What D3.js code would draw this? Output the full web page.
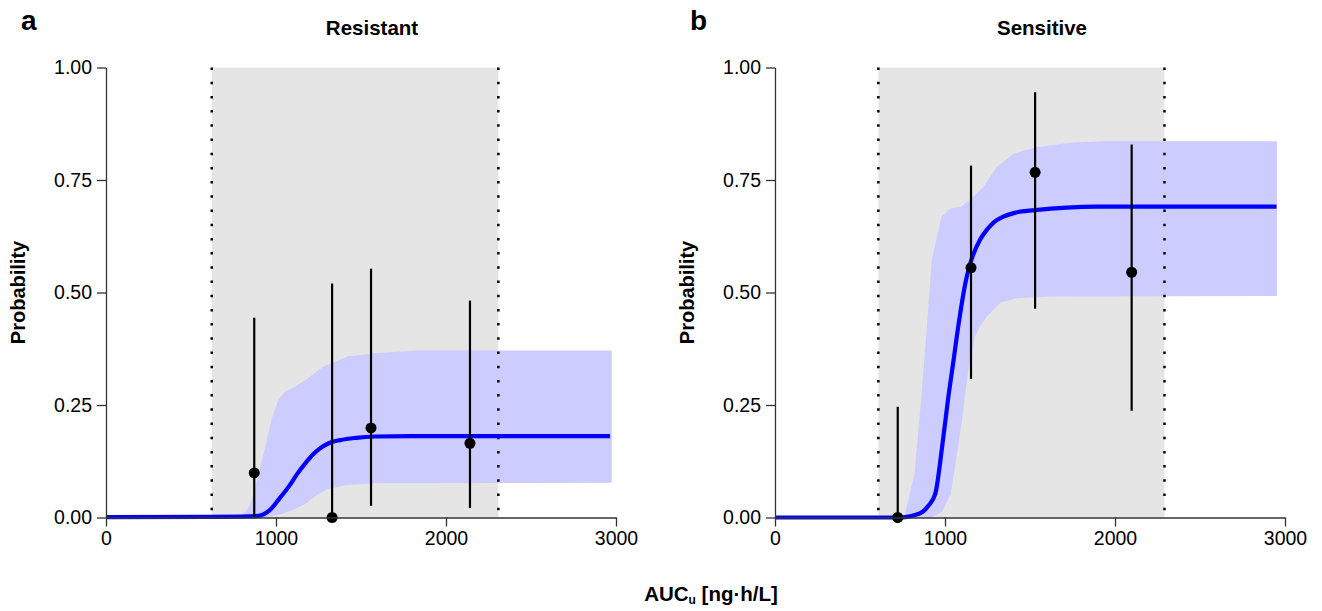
<!DOCTYPE html>
<html>
<head>
<meta charset="utf-8">
<script src="https://cdn.jsdelivr.net/npm/d3@7"></script>
<style>
	body{margin:0;background:#fff;}
	svg{display:block;font-family:"Liberation Sans",Arial,sans-serif;}
</style>
</head>
<body>
<div id="container"></div>
<script>
// axis ticks
var xTicks = [0,1000,2000,3000];
var yTicks = [0,0.25,0.5,0.75,1];

// panel a - resistant
var resShade = [622,2308];
var resPtX = [872,1330,1559,2141];
var resPtP = [0.099,0,0.199,0.165];
var resPtLo = [0,0,0.026,0.021];
var resPtHi = [0.444,0.52,0.553,0.482];
var resCurveX = [0,600,800,880,912,945,973,1020,1074,1125,1176,1220,1257,1310,1378,1470,1581,1800,2965];
var resCurveY = [0.001,0.0015,0.002,0.003,0.005,0.011,0.02,0.042,0.068,0.097,0.122,0.141,0.153,0.165,0.172,0.177,0.180,0.181,0.181];
var resUpX = [0,790,820,851,880,912,945,973,1014,1050,1095,1176,1277,1419,1581,1824,2975];
var resUpY = [0.001,0.005,0.012,0.031,0.07,0.12,0.17,0.217,0.262,0.279,0.287,0.306,0.335,0.358,0.365,0.371,0.371];
var resLoX = [0,950,1034,1095,1176,1240,1297,1419,1581,2975];
var resLoY = [0,0.0005,0.008,0.016,0.031,0.05,0.062,0.072,0.076,0.077];

// panel b - sensitive
var senShade = [608,2291];
var senPtX = [722,1153,1530,2098];
var senPtP = [0,0.555,0.767,0.545];
var senPtLo = [0,0.308,0.464,0.237];
var senPtHi = [0.246,0.782,0.945,0.829];
var senCurveX = [0,722,851,902,943,983,1020,1048,1080,1125,1153,1206,1250,1287,1340,1409,1530,1895,2950];
var senCurveY = [0,0,0.009,0.026,0.053,0.157,0.269,0.343,0.43,0.53,0.57,0.617,0.641,0.656,0.668,0.677,0.683,0.691,0.691];
var senUpX = [0,760,821,861,892,922,979,1034,1095,1156,1226,1307,1409,1530,1733,1936,2953];
var senUpY = [0,0,0.098,0.269,0.417,0.572,0.669,0.687,0.691,0.709,0.735,0.78,0.809,0.822,0.833,0.836,0.836];
var senLoX = [0,922,983,1034,1074,1105,1135,1176,1206,1247,1328,1429,1632,2953];
var senLoY = [0,0,0.013,0.053,0.15,0.231,0.32,0.402,0.425,0.447,0.478,0.488,0.491,0.492];

var panels = [
	{label:'a',title:'Resistant',left:106,titleX:372,shade:resShade,
		ptX:resPtX,ptP:resPtP,ptLo:resPtLo,ptHi:resPtHi,
		cX:resCurveX,cY:resCurveY,uX:resUpX,uY:resUpY,lX:resLoX,lY:resLoY},
	{label:'b',title:'Sensitive',left:775,titleX:1042,shade:senShade,
		ptX:senPtX,ptP:senPtP,ptLo:senPtLo,ptHi:senPtHi,
		cX:senCurveX,cY:senCurveY,uX:senUpX,uY:senUpY,lX:senLoX,lY:senLoY}
];

var W = 1322, H = 611;
var top_ = 67.5, bottom = 517.5, plotW = 510;

var svg = d3.select('#container').append('svg')
	.attr('width',W)
	.attr('height',H);

var y = d3.scaleLinear().domain([0,1]).range([bottom,top_]);

panels.forEach(function(p){
	var x = d3.scaleLinear().domain([0,3000]).range([p.left,p.left+plotW]);
	var g = svg.append('g');

	//shaded AUC range
	g.append('rect')
		.attr('x',x(p.shade[0]))
		.attr('y',y(1))
		.attr('width',x(p.shade[1])-x(p.shade[0]))
		.attr('height',y(0)-y(1))
		.style('fill','#e5e5e5');

	//prediction band
	var up = p.uX.map(function(d,i){ return [d,p.uY[i]]; });
	var lo = p.lX.map(function(d,i){ return [d,p.lY[i]]; }).reverse();
	var band = d3.line()
		.x(function(d){ return x(d[0]); })
		.y(function(d){ return y(d[1]); });
	g.append('path')
		.attr('d',band(up.concat(lo))+'Z')
		.style('fill','#ccccff')
		.style('stroke','none');

	//dotted bounds
	g.selectAll('line.bound')
		.data(p.shade)
		.enter().append('line')
		.classed('bound',true)
		.attr('x1',function(d){ return x(d); })
		.attr('x2',function(d){ return x(d); })
		.attr('y1',y(1))
		.attr('y2',y(0))
		.style('stroke','#000')
		.style('stroke-width',2.5)
		.style('stroke-dasharray','2.5,11.7');

	//median curve
	var line = d3.line()
		.x(function(d){ return x(d); })
		.y(function(d,i){ return y(p.cY[i]); })
		.curve(d3.curveMonotoneX);
	g.append('path')
		.attr('d',line(p.cX))
		.style('fill','none')
		.style('stroke','#0000ff')
		.style('stroke-width',4.2);

	//observed proportions with CI
	g.selectAll('line.ci')
		.data(p.ptX)
		.enter().append('line')
		.classed('ci',true)
		.attr('x1',function(d){ return x(d); })
		.attr('x2',function(d){ return x(d); })
		.attr('y1',function(d,i){ return y(p.ptLo[i]); })
		.attr('y2',function(d,i){ return y(p.ptHi[i]); })
		.style('stroke','#000')
		.style('stroke-width',2.2);
	g.selectAll('circle.pt')
		.data(p.ptX)
		.enter().append('circle')
		.classed('pt',true)
		.attr('cx',function(d){ return x(d); })
		.attr('cy',function(d,i){ return y(p.ptP[i]); })
		.attr('r',5.5)
		.style('fill','#000');

	//axes
	var xAxis = g.append('g')
		.attr('transform','translate(0,' +y(0) +')')
		.call(d3.axisBottom(x).tickValues(xTicks).tickSize(9).tickSizeOuter(0).tickPadding(5).tickFormat(d3.format('d')));
	var yAxis = g.append('g')
		.attr('transform','translate(' +p.left +',0)')
		.call(d3.axisLeft(y).tickValues(yTicks).tickSize(9).tickSizeOuter(0).tickPadding(5).tickFormat(d3.format('.2f')));
	[xAxis,yAxis].forEach(function(a){
		a.selectAll('path,line').style('stroke','#333').style('stroke-width',1.3);
		a.selectAll('text').style('font-size','19.5px').style('fill','#000').style('font-family','"Liberation Sans",Arial,sans-serif');
	});

	//titles
	g.append('text')
		.attr('x',p.titleX)
		.attr('y',35)
		.attr('text-anchor','middle')
		.style('font-weight','bold')
		.style('font-size','20.5px')
		.text(p.title);
	g.append('text')
		.attr('x',p.left-85)
		.attr('y',30)
		.style('font-weight','bold')
		.style('font-size','28px')
		.text(p.label);
	g.append('text')
		.attr('transform','translate(' +(p.left-81) +',' +((top_+bottom)/2) +')rotate(-90)')
		.attr('text-anchor','middle')
		.style('font-weight','bold')
		.style('font-size','20px')
		.text('Probability');
});

var xl = svg.append('text')
	.attr('x',711)
	.attr('y',601)
	.attr('text-anchor','middle')
	.style('font-weight','bold')
	.style('font-size','20.5px');
xl.append('tspan').text('AUC');
xl.append('tspan').attr('dy',3).style('font-size','12px').text('u');
xl.append('tspan').attr('dy',-3).text(' [ng\u00b7h/L]');
</script>
</body>
</html>
